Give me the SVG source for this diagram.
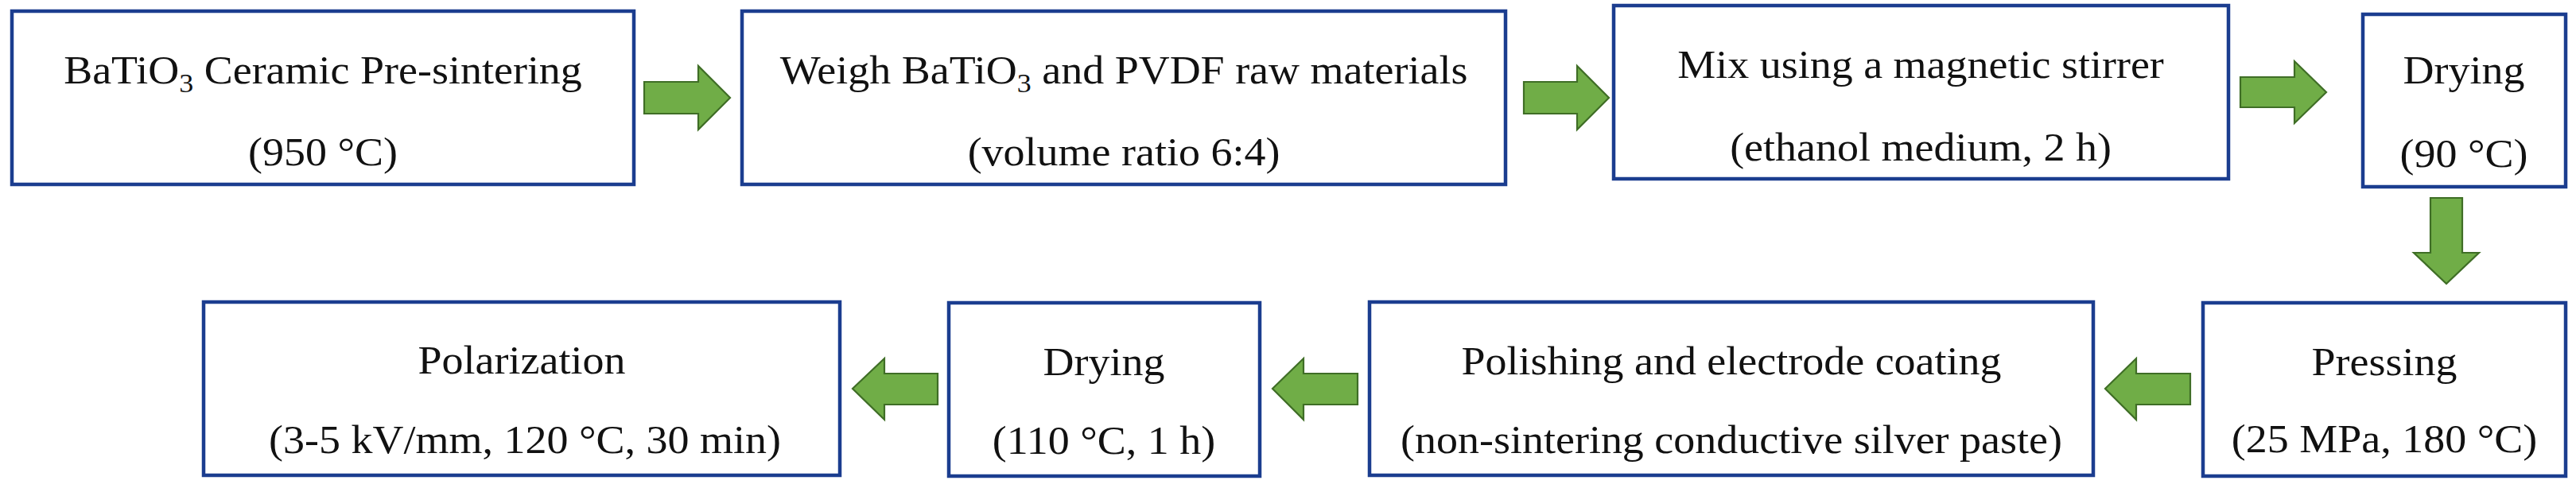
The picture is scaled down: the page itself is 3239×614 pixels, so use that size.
<svg xmlns="http://www.w3.org/2000/svg" width="3239" height="614" viewBox="0 0 3239 614">
<style>
.box{fill:#ffffff;stroke:#1B3D8F;stroke-width:4.5}
.arrow{fill:#70AD47;stroke:#3F6E26;stroke-width:2.2;stroke-linejoin:miter}
.t{font-family:"Liberation Serif","Times New Roman",serif;font-size:54px;fill:#111111;text-anchor:middle}
.sub{font-size:36px}
</style>
<rect x="0" y="0" width="3239" height="614" fill="#ffffff"/>
<g id="connectors">
<path class="arrow" d="M810,103 H878 V83 L918,123 L878,163 V143 H810 Z"/>
<path class="arrow" d="M1916,103 H1983 V83 L2023,123 L1983,163 V143 H1916 Z"/>
<path class="arrow" d="M2817,97 H2885 V77 L2925,116 L2885,155 V135 H2817 Z"/>
<path class="arrow" d="M3056,249 V318 H3035 L3076,357 L3117,318 H3096 V249 Z"/>
<path class="arrow" d="M2754,470 H2686 V451 L2647,489 L2686,528 V509 H2754 Z"/>
<path class="arrow" d="M1707,470 H1639 V451 L1600,489 L1639,528 V509 H1707 Z"/>
<path class="arrow" d="M1179,470 H1112 V451 L1072,489 L1112,528 V509 H1179 Z"/>
</g>
<g id="n1">
<rect class="box" x="15" y="14" width="782" height="218"/>
<text class="t" transform="translate(406,105) scale(1,0.93)">BaTiO<tspan class="sub" dy="12">3</tspan><tspan dy="-12"> Ceramic Pre-sintering</tspan></text>
<text class="t" transform="translate(406,208) scale(1,0.93)">(950 °C)</text>
</g>
<g id="n2">
<rect class="box" x="933" y="14" width="960" height="218"/>
<text class="t" transform="translate(1413,105) scale(1,0.93)">Weigh BaTiO<tspan class="sub" dy="12">3</tspan><tspan dy="-12"> and PVDF raw materials</tspan></text>
<text class="t" transform="translate(1413,208) scale(1,0.93)">(volume ratio 6:4)</text>
</g>
<g id="n3">
<rect class="box" x="2029" y="7" width="773" height="218"/>
<text class="t" transform="translate(2415,98) scale(1,0.93)">Mix using a magnetic stirrer</text>
<text class="t" transform="translate(2415,202) scale(1,0.93)">(ethanol medium, 2 h)</text>
</g>
<g id="n4">
<rect class="box" x="2971" y="18" width="255" height="217"/>
<text class="t" transform="translate(3098,105) scale(1,0.93)">Drying</text>
<text class="t" transform="translate(3098,210) scale(1,0.93)">(90 °C)</text>
</g>
<g id="n5">
<rect class="box" x="2770" y="381" width="456" height="218"/>
<text class="t" transform="translate(2998,472) scale(1,0.93)">Pressing</text>
<text class="t" transform="translate(2998,569) scale(1,0.93)">(25 MPa, 180 °C)</text>
</g>
<g id="n6">
<rect class="box" x="1722" y="380" width="910" height="218"/>
<text class="t" transform="translate(2177,471) scale(1,0.93)">Polishing and electrode coating</text>
<text class="t" transform="translate(2177,570) scale(1,0.93)">(non-sintering conductive silver paste)</text>
</g>
<g id="n7">
<rect class="box" x="1193" y="381" width="391" height="218"/>
<text class="t" transform="translate(1388,472) scale(1,0.93)">Drying</text>
<text class="t" transform="translate(1388,571) scale(1,0.93)">(110 °C, 1 h)</text>
</g>
<g id="n8">
<rect class="box" x="256" y="380" width="800" height="218"/>
<text class="t" transform="translate(656,470) scale(1,0.93)">Polarization</text>
<text class="t" transform="translate(660,570) scale(1,0.93)">(3-5 kV/mm, 120 °C, 30 min)</text>
</g>
</svg>
